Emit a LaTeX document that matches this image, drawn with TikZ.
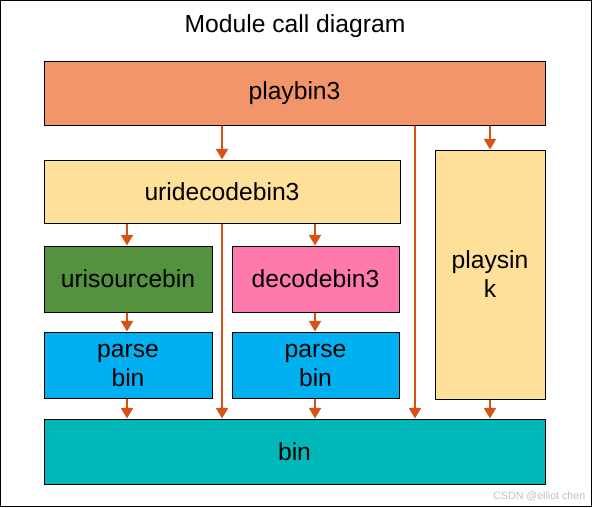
\documentclass[tikz,border=0pt]{standalone}
\usepackage{fontspec}
\setmainfont{Liberation Sans}
\definecolor{cplay}{RGB}{242,149,106}
\definecolor{cyel}{RGB}{255,224,153}
\definecolor{cgreen}{RGB}{84,146,64}
\definecolor{cpink}{RGB}{255,122,172}
\definecolor{cblue}{RGB}{0,176,240}
\definecolor{cteal}{RGB}{0,183,185}
\definecolor{carrow}{RGB}{214,82,22}
\tikzset{
  blk/.style={draw=black, line width=0.75pt, inner sep=0pt, align=center,
    font=\fontsize{18.5}{21.75}\selectfont},
  callarrow/.style={draw=carrow, line width=1.6pt, -{Triangle[width=9pt,length=8pt]}}
}
\usetikzlibrary{arrows.meta}
\begin{document}
\begin{tikzpicture}[x=0.75pt,y=-0.75pt]
  \useasboundingbox (0,0) rectangle (592,507);
  \draw[line width=0.75pt] (0.5,0.5) rectangle (591.5,506.5);
  \node[font=\fontsize{18.5}{22}\selectfont] (title) at (295,26) {Module call diagram};
  % blocks
  \node[blk, fill=cplay, minimum width=375.75pt, minimum height=48pt] (playbin) at (294.5,93) {playbin3};
  \node[blk, fill=cyel, minimum width=267pt, minimum height=47.25pt] (uridecode) at (222,191.5) {uridecodebin3};
  \node[blk, fill=cyel, minimum width=82.5pt, minimum height=186.75pt] (playsink) at (490,274.5) {playsin\\k};
  \node[blk, fill=cgreen, minimum width=126pt, minimum height=49.5pt] (urisource) at (128,279) {urisourcebin};
  \node[blk, fill=cpink, minimum width=125.25pt, minimum height=49.5pt] (decode) at (315.5,279) {decodebin3};
  \node[blk, fill=cblue, minimum width=126pt, minimum height=49.5pt] (parseA) at (128,365) {parse\\bin};
  \node[blk, fill=cblue, minimum width=125.25pt, minimum height=49.5pt] (parseB) at (315.5,365) {parse\\bin};
  \node[blk, fill=cteal, minimum width=375.75pt, minimum height=48.75pt] (bin) at (294.5,451.5) {bin};
  % arrow columns
  \coordinate (colA) at (127,0);
  \coordinate (colB) at (222,0);
  \coordinate (colC) at (315,0);
  \coordinate (colD) at (415,0);
  \coordinate (colE) at (490,0);
  % calls
  \draw[callarrow] (playbin.south -| colB) -- (uridecode.north -| colB);
  \draw[callarrow] (playbin.south -| colD) -- (bin.north -| colD);
  \draw[callarrow] (playbin.south -| colE) -- (playsink.north -| colE);
  \draw[callarrow] (uridecode.south -| colA) -- (urisource.north -| colA);
  \draw[callarrow] (uridecode.south -| colC) -- (decode.north -| colC);
  \draw[callarrow] (uridecode.south -| colB) -- (bin.north -| colB);
  \draw[callarrow] (urisource.south -| colA) -- (parseA.north -| colA);
  \draw[callarrow] (decode.south -| colC) -- (parseB.north -| colC);
  \draw[callarrow] (parseA.south -| colA) -- (bin.north -| colA);
  \draw[callarrow] (parseB.south -| colC) -- (bin.north -| colC);
  \draw[callarrow] (playsink.south -| colE) -- (bin.north -| colE);
  \node[text=black!25, font=\fontsize{8}{9}\selectfont, anchor=east] (mark) at (590,496) {CSDN @elliot chen};
\end{tikzpicture}
\end{document}
